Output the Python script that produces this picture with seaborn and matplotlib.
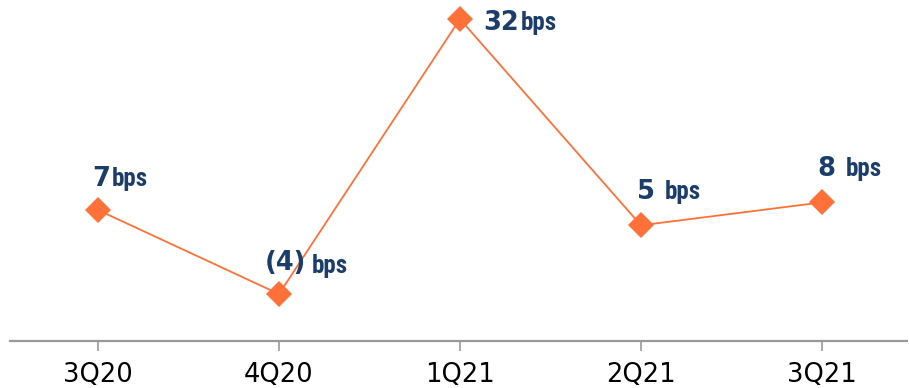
import matplotlib
matplotlib.use("Agg")
import matplotlib.pyplot as plt
import seaborn as sns
import pandas as pd

quarters = ["3Q20", "4Q20", "1Q21", "2Q21", "3Q21"]
bps_values = [7, -4, 32, 5, 8]
number_labels = ["7", "(4)", "32", "5 ", "8 "]
unit_labels = ["bps", "bps", "bps", "bps", "bps"]

sns.set_theme(style="white")
plt.rcParams["font.family"] = ["DejaVu Sans"]

df = pd.DataFrame({"pos": range(len(quarters)), "q": quarters, "v": bps_values})

DPI = 100
fig = plt.figure(figsize=(9.09, 3.88), dpi=DPI)
ax = fig.add_axes([10 / 909, 47 / 388, 897 / 909, 341 / 388])

orange = "#FF7138"
navy = "#1C3D6B"
sns.lineplot(data=df, x="pos", y="v", ax=ax, color=orange, linewidth=1.3,
             marker="D", markersize=13, markeredgewidth=0, sort=False)

ax.set_xlim(-0.486, 4.47)
ax.set_ylim(-10.15, 34.5)
ax.set_xticks(range(len(quarters)))
ax.set_xticklabels(quarters, fontsize=18.5, color="black")
ax.set_yticks([])
ax.set_xlabel("")
ax.set_ylabel("")
for s in ["top", "right", "left"]:
    ax.spines[s].set_visible(False)
ax.spines["bottom"].set_color("#999999")
ax.spines["bottom"].set_linewidth(1.6)
ax.tick_params(axis="x", direction="out", length=7, width=1.2, color="#999999",
               bottom=True, pad=8)

narrow = ["Liberation Sans Narrow", "Roboto Condensed", "DejaVu Sans"]

# label placement (points) relative to each marker, and gap/drop of the unit
offsets = [(-4, 17), (-10, 17), (17, -8), (-3, 19), (-3, 19)]
unit_shift = [(1, 0), (4, -2), (1, 0), (1, 0), (1, 0)]
fig.canvas.draw()
renderer = fig.canvas.get_renderer()
for i, (num, unit) in enumerate(zip(number_labels, unit_labels)):
    t = ax.annotate(num, xy=(i, bps_values[i]), xytext=offsets[i],
                    textcoords="offset points", ha="left", va="baseline",
                    fontsize=18.5, fontweight="bold", color=navy)
    w = t.get_window_extent(renderer).width * 72 / DPI
    ax.annotate(unit, xy=(i, bps_values[i]),
                xytext=(offsets[i][0] + w + unit_shift[i][0],
                        offsets[i][1] + unit_shift[i][1]),
                textcoords="offset points", ha="left", va="baseline",
                fontsize=18, fontweight="bold", color=navy, family=narrow)

fig.savefig("out.png", dpi=DPI)
